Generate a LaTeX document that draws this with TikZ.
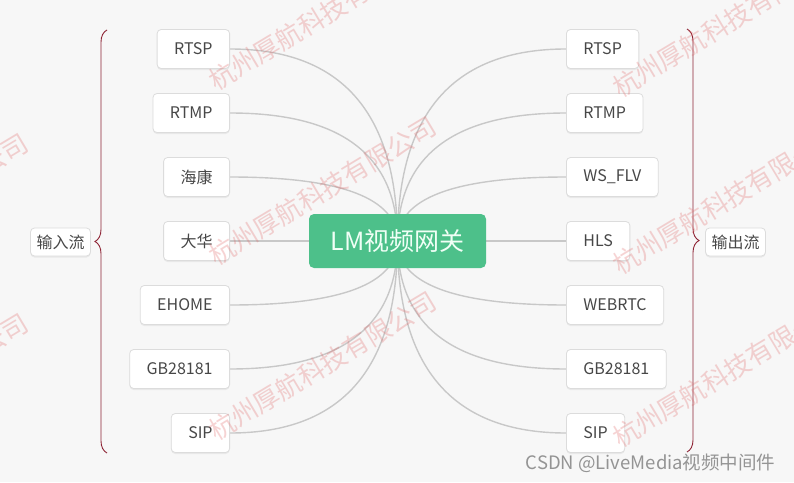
\documentclass[tikz,border=0pt]{standalone}
\usepackage{fontspec}
\setmainfont{Noto Sans CJK SC}
\usetikzlibrary{positioning,calc,shadows,backgrounds,decorations.pathreplacing}

\definecolor{paper}{HTML}{F7F7F7}
\definecolor{gwgreen}{HTML}{4DC08A}
\definecolor{gwtext}{HTML}{F0FFF6}
\definecolor{linkgray}{HTML}{C8C8C8}
\definecolor{boxline}{HTML}{DCDCDC}
\definecolor{leaftext}{HTML}{474747}
\definecolor{bracered}{HTML}{8E2435}
\definecolor{markred}{HTML}{E06060}

\tikzset{
  leaf/.style={draw=boxline, line width=0.8pt, fill=white, rounded corners=4pt,
    minimum height=39pt, inner xsep=17pt, text=leaftext,
    font=\fontsize{16}{16}\selectfont,
    drop shadow={shadow xshift=0pt, shadow yshift=-1.5pt, opacity=.12}},
  side/.style={leaf, minimum height=28pt, inner xsep=6pt,
    font=\fontsize{16}{16}\selectfont},
  gateway/.style={fill=gwgreen, rounded corners=5pt, minimum width=177pt,
    minimum height=54pt, text=gwtext, font=\fontsize{25}{25}\selectfont},
  link/.style={draw=linkgray, line width=1.4pt},
  curly/.style={draw=bracered, line width=0.9pt,
    decorate, decoration={brace, amplitude=12pt}},
  stamp/.style={text=markred, opacity=.27, rotate=31, anchor=base west,
    font=\fontsize{26}{26}\selectfont}
}

\begin{document}
\begin{tikzpicture}[x=1pt, y=-1pt, node distance=64pt, on grid]
  \useasboundingbox (0,0) rectangle (794,482);

  % centre
  \node[gateway] (gw) at (397.5,241) {LM视频网关};

  % inputs
  \node[leaf, anchor=east] (in1) at (230,49) {RTSP};
  \node[leaf, below=of in1.east, anchor=east] (in2) {RTMP};
  \node[leaf, below=of in2.east, anchor=east] (in3) {海康};
  \node[leaf, below=of in3.east, anchor=east] (in4) {大华};
  \node[leaf, below=of in4.east, anchor=east] (in5) {EHOME};
  \node[leaf, below=of in5.east, anchor=east] (in6) {GB28181};
  \node[leaf, below=of in6.east, anchor=east] (in7) {SIP};

  % outputs
  \node[leaf, anchor=west] (out1) at (566,49) {RTSP};
  \node[leaf, below=of out1.west, anchor=west] (out2) {RTMP};
  \node[leaf, below=of out2.west, anchor=west] (out3) {WS\_FLV};
  \node[leaf, below=of out3.west, anchor=west] (out4) {HLS};
  \node[leaf, below=of out4.west, anchor=west] (out5) {WEBRTC};
  \node[leaf, below=of out5.west, anchor=west] (out6) {GB28181};
  \node[leaf, below=of out6.west, anchor=west] (out7) {SIP};

  % braces and their labels
  \coordinate (lb-top) at (107,30);
  \coordinate (lb-bot) at (107,453);
  \coordinate (rb-top) at (687,29);
  \coordinate (rb-bot) at (687,452);
  \draw[curly] (lb-bot) -- (lb-top);
  \draw[curly] (rb-top) -- (rb-bot);
  \node[side] (instream) at (60.5,242) {输入流};
  \node[side] (outstream) at (735.5,242) {输出流};

  \begin{scope}[on background layer]
    \fill[paper] (0,0) rectangle (794,482);
    \foreach \i in {1,...,7} {
      \coordinate (kin) at (gw.center |- in\i.east);
      \coordinate (kout) at (gw.center |- out\i.west);
      \draw[link] (in\i.east) .. controls ($(in\i.east)!.667!(kin)$)
        and ($(gw.center)!.667!(kin)$) .. (gw.center);
      \draw[link] (out\i.west) .. controls ($(out\i.west)!.667!(kout)$)
        and ($(gw.center)!.667!(kout)$) .. (gw.center);
    }
  \end{scope}

  % watermark
  \foreach \x/\y [count=\k] in {-195/105, -195/285, -195/465,
      213/93, 213/268, 213/443, 617/100, 617/277, 617/450}
    \node[stamp] (wm\k) at (\x,\y) {杭州厚航科技有限公司};

  \node[anchor=base east, text=black!42, font=\fontsize{18.5}{18.5}\selectfont]
    (csdn) at (779,469) {CSDN @LiveMedia视频中间件};
\end{tikzpicture}
\end{document}
